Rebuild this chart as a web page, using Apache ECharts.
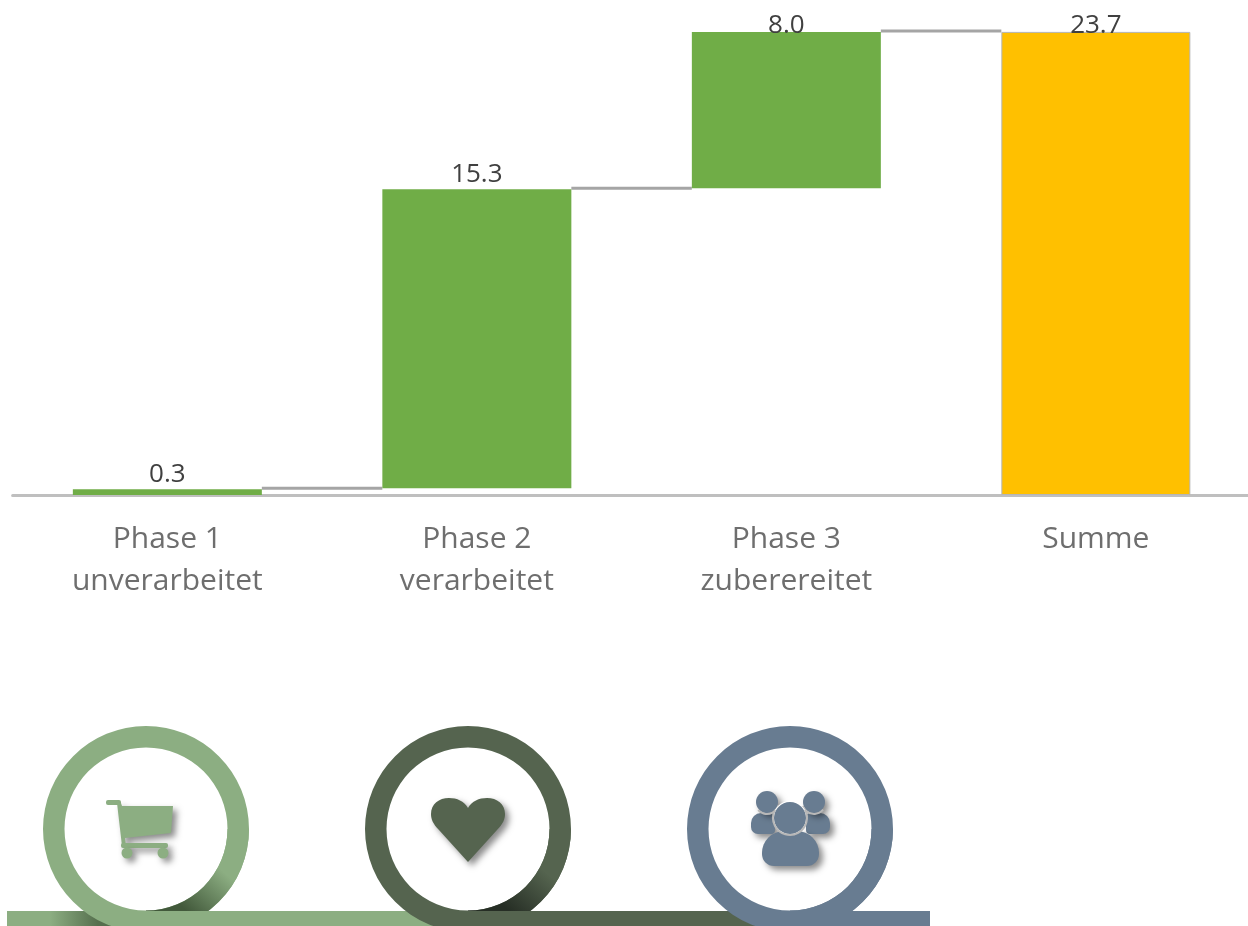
<!DOCTYPE html>
<html>
<head>
<meta charset="utf-8">
<style>
  html, body { margin: 0; padding: 0; background: #fff; overflow: hidden; }
  #chart { width: 1252px; height: 926px; }
</style>
<script src="https://cdn.jsdelivr.net/npm/echarts@6/dist/echarts.min.js"></script>
</head>
<body>
<div id="chart"></div>
<script>
var categories = ['Phase 1\nunverarbeitet', 'Phase 2\nverarbeitet', 'Phase 3\nzuberereitet', 'Summe'];
var offsets = [0, 0.35, 15.7, 0];
var values = [0.3, 15.3, 8.0, 23.7];
var connectors = [0.35, 15.7, 23.75];

var GREEN = '#8cae82', DARK = '#55644f', BLUE = '#687c91';
var barWidth = 189;

function ringParts(cx, color, shade) {
    var cy = 829;
    return [
        { type: 'ring', shape: { cx: cx, cy: cy, r: 103, r0: 81.5 }, style: { fill: color } },
        {
            type: 'sector',
            shape: { cx: cx, cy: cy, r: 103, r0: 81.5, startAngle: 0, endAngle: Math.PI / 2 },
            style: {
                fill: new echarts.graphic.LinearGradient(cx + 80, 874, cx + 44, 914, [
                    { offset: 0, color: color },
                    { offset: 1, color: shade }
                ], true)
            }
        }
    ];
}

function strip(x, w, fill) {
    return { type: 'rect', shape: { x: x, y: 911, width: w, height: 15 }, style: { fill: fill } };
}

function iconStyle(color) {
    return {
        fill: color,
        shadowBlur: 6,
        shadowOffsetX: 4,
        shadowOffsetY: 4,
        shadowColor: 'rgba(0,0,0,0.45)'
    };
}

function cartIcon() {
    var s = iconStyle(GREEN);
    return [
        { type: 'rect', shape: { x: 106, y: 800, width: 15, height: 5, r: 2 }, style: { fill: GREEN } },
        { type: 'polygon', shape: { points: [[117, 803], [121, 803], [122, 806], [173, 806], [171, 833], [125, 838], [126, 846], [122, 846]] }, style: s },
        { type: 'rect', shape: { x: 121, y: 843, width: 47, height: 5, r: 2 }, style: s },
        { type: 'circle', shape: { cx: 127, cy: 853, r: 5.5 }, style: s },
        { type: 'circle', shape: { cx: 163, cy: 853, r: 5.5 }, style: s }
    ];
}

function heartIcon() {
    return [{
        type: 'path',
        shape: {
            pathData: 'M468 862 L439 830 C433 824 431 819 431 814 C431 804 439 798 449 798 C457 798 464 801 468 808 C472 801 479 798 487 798 C497 798 505 804 505 814 C505 819 503 824 497 830 Z',
            x: 431, y: 798, width: 74, height: 64, layout: 'cover'
        },
        style: iconStyle(DARK)
    }];
}

function peopleIcon() {
    var s = iconStyle(BLUE);
    var edge = { fill: 'none', stroke: '#b8b8b8', lineWidth: 2 };
    return [
        { type: 'rect', shape: { x: 751, y: 813, width: 24, height: 21, r: [10, 4, 4, 7] }, style: s },
        { type: 'rect', shape: { x: 806, y: 813, width: 24, height: 21, r: [4, 10, 7, 4] }, style: s },
        { type: 'circle', shape: { cx: 767, cy: 802, r: 11 }, style: s },
        { type: 'circle', shape: { cx: 814, cy: 802, r: 11 }, style: s },
        { type: 'arc', shape: { cx: 767, cy: 802, r: 12, startAngle: 0.3, endAngle: 2.4 }, style: edge },
        { type: 'arc', shape: { cx: 814, cy: 802, r: 12, startAngle: 0.7, endAngle: 2.8 }, style: edge },
        { type: 'rect', shape: { x: 762, y: 831, width: 57, height: 35, r: [22, 22, 12, 12] }, style: s },
        { type: 'circle', shape: { cx: 790, cy: 818, r: 17 }, style: { fill: '#fff' } },
        { type: 'circle', shape: { cx: 790, cy: 818, r: 16 }, style: { fill: BLUE } },
        { type: 'arc', shape: { cx: 790, cy: 818, r: 17, startAngle: -0.5, endAngle: 3.64 }, style: edge }
    ];
}

function renderDecor() {
    var parts = [];
    // strips and rings are layered so each ring runs out into its strip
    parts.push(strip(7, 139, new echarts.graphic.LinearGradient(50, 0, 98, 0, [
        { offset: 0, color: GREEN },
        { offset: 1, color: '#566f4e' }
    ], true)));
    parts = parts.concat(ringParts(146, GREEN, '#42593b'));
    parts.push(strip(146, 322, GREEN));
    parts = parts.concat(ringParts(468, DARK, '#262e25'));
    parts.push(strip(468, 322, DARK));
    parts = parts.concat(ringParts(790, BLUE, BLUE));
    parts.push(strip(790, 140, BLUE));
    parts = parts.concat(cartIcon(), heartIcon(), peopleIcon());
    return { type: 'group', children: parts };
}

var option = {
    animation: false,
    backgroundColor: '#fff',
    grid: { left: 12.6, top: 6.5, width: 1238, height: 488.5 },
    xAxis: {
        type: 'category',
        data: categories,
        axisTick: { show: false },
        axisLine: { lineStyle: { color: '#bfbfbf', width: 3 } },
        axisLabel: {
            color: '#6e6e6e',
            fontFamily: 'Open Sans',
            fontSize: 30,
            lineHeight: 42,
            margin: 23
        }
    },
    yAxis: { type: 'value', min: 0, max: 25, show: false },
    series: [
        {
            type: 'bar',
            stack: 'w',
            barWidth: barWidth,
            silent: true,
            itemStyle: { color: 'transparent' },
            data: offsets
        },
        {
            type: 'bar',
            stack: 'w',
            barWidth: barWidth,
            data: values.map(function (v, i) {
                var last = i === values.length - 1;
                return {
                    value: v,
                    itemStyle: last ? { color: '#ffc000', borderColor: '#b5b5b5', borderWidth: 1 } : { color: '#70ad47' },
                    label: { distance: i >= 2 ? -7 : 2 }
                };
            }),
            label: {
                show: true,
                position: 'top',
                color: '#404040',
                fontFamily: 'Open Sans',
                fontSize: 26,
                formatter: function (p) { return p.value.toFixed(1); }
            }
        },
        {
            type: 'custom',
            silent: true,
            renderItem: function (params, api) {
                var from = api.coord([api.value(0), api.value(1)]);
                var to = api.coord([api.value(0) + 1, api.value(1)]);
                return {
                    type: 'line',
                    shape: { x1: from[0] + barWidth / 2, y1: from[1], x2: to[0] - barWidth / 2, y2: to[1] },
                    style: { stroke: '#a5a5a5', lineWidth: 3 }
                };
            },
            encode: { x: 0, y: 1 },
            data: connectors.map(function (v, i) { return [i, v]; })
        },
        {
            type: 'custom',
            coordinateSystem: 'none',
            silent: true,
            renderItem: renderDecor,
            data: [0]
        }
    ]
};

echarts.init(document.getElementById('chart')).setOption(option);
</script>
</body>
</html>
